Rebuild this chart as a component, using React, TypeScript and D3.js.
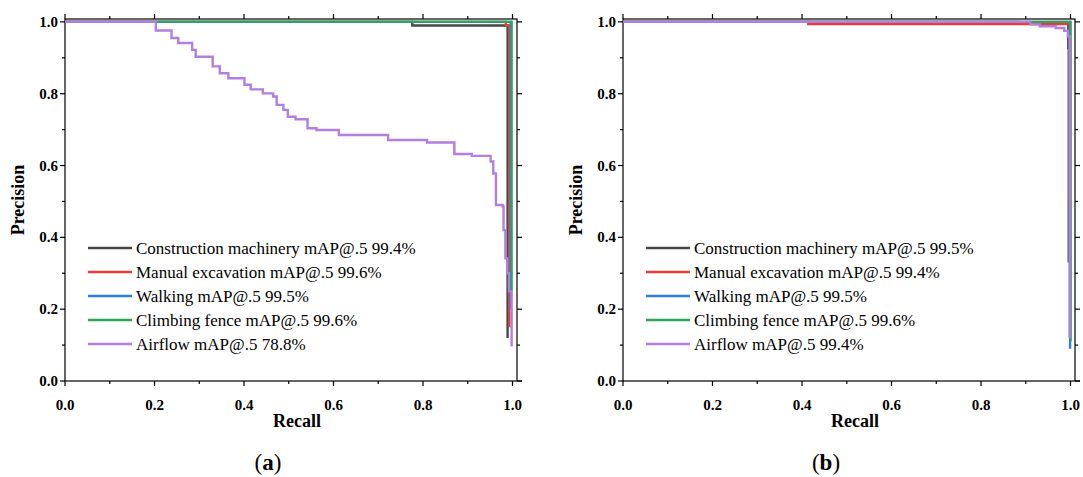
import React from 'react';
import * as d3 from 'd3';

// PR curves, [recall, precision] pairs (step-after)
const classNames = ['Construction machinery', 'Manual excavation', 'Walking', 'Climbing fence', 'Airflow'];
const colors = ['#474747', '#ec3b35', '#2f7fe0', '#2ea35f', '#b27ee0'];

const mapA = ['99.4%', '99.6%', '99.5%', '99.6%', '78.8%'];
const mapB = ['99.5%', '99.4%', '99.5%', '99.6%', '99.4%'];

const machineryA = [[0, 1], [0.776, 0.99], [0.989, 0.12], [0.989, 0.12]];
const excavationA = [[0, 1], [0.985, 0.99], [0.993, 0.15], [0.993, 0.15]];
const walkingA = [[0, 1], [0.996, 0.2], [0.996, 0.2]];
const fenceA = [[0, 1], [0.998, 0.25], [0.998, 0.25]];
const airflowA = [
  [0, 1], [0.203, 0.976], [0.238, 0.955], [0.253, 0.941], [0.284, 0.922], [0.292, 0.903],
  [0.33, 0.876], [0.346, 0.857], [0.365, 0.843], [0.401, 0.825], [0.415, 0.812],
  [0.442, 0.801], [0.465, 0.792], [0.473, 0.769], [0.488, 0.755], [0.498, 0.736],
  [0.515, 0.729], [0.542, 0.704], [0.562, 0.699], [0.612, 0.685], [0.722, 0.671],
  [0.809, 0.664], [0.87, 0.632], [0.909, 0.627], [0.951, 0.611], [0.957, 0.578],
  [0.963, 0.49], [0.978, 0.486], [0.98, 0.42], [0.984, 0.342], [0.988, 0.3],
  [0.992, 0.25], [0.998, 0.096], [0.998, 0.096],
];

const machineryB = [[0, 1], [0.885, 0.995], [0.995, 0.927], [0.996, 0.33], [0.996, 0.33]];
const excavationB = [[0, 1], [0.414, 0.994], [0.998, 0.5], [0.998, 0.5]];
const walkingB = [[0, 1], [0.999, 0.09], [0.999, 0.09]];
const fenceB = [[0, 1], [1.0, 0.11], [1.0, 0.11]];
const airflowB = [
  [0, 1], [0.91, 0.993], [0.931, 0.988], [0.967, 0.983], [0.986, 0.975],
  [0.994, 0.96], [0.998, 0.12], [0.998, 0.12],
];

const seriesA = [machineryA, excavationA, walkingA, fenceA, airflowA];
const seriesB = [machineryB, excavationB, walkingB, fenceB, airflowB];

const majorTicks = [0, 0.2, 0.4, 0.6, 0.8, 1.0];
const minorTicks = [0.1, 0.3, 0.5, 0.7, 0.9];

const serif = '"Liberation Serif", "Times New Roman", serif';

function Panel({ x0, series, maps, letter }: { x0: number; series: number[][][]; maps: string[]; letter: string }) {
  const left = x0 + 65;
  const right = x0 + 517;
  const top = 19;
  const bottom = 381;
  const x = d3.scaleLinear().domain([0, 1.01]).range([left, right]);
  const y = d3.scaleLinear().domain([0, 1.008]).range([bottom, top]);
  const line = d3.line<number[]>()
    .x(d => x(d[0]))
    .y(d => y(d[1]))
    .curve(d3.curveStepAfter);

  return (
    <g>
      <rect x={left} y={top} width={right - left} height={bottom - top} fill="none" stroke="#000" strokeWidth={1.2} />
      <line x1={right} x2={right + 5} y1={bottom} y2={bottom} stroke="#000" strokeWidth={1.2} />
      {majorTicks.map(t => (
        <g key={'M' + t}>
          <line x1={x(t)} x2={x(t)} y1={bottom} y2={bottom + 5} stroke="#000" strokeWidth={1.2} />
          <line x1={x(t)} x2={x(t)} y1={top} y2={top - 5} stroke="#000" strokeWidth={1.2} />
          <line x1={left} x2={left - 5} y1={y(t)} y2={y(t)} stroke="#000" strokeWidth={1.2} />
          <line x1={right} x2={right + 5} y1={y(t)} y2={y(t)} stroke="#000" strokeWidth={1.2} />
          <text x={x(t)} y={bottom + 29} textAnchor="middle" fontFamily={serif} fontWeight="bold" fontSize={15}>
            {t.toFixed(1)}
          </text>
          <text x={left - 7} y={y(t) + 5} textAnchor="end" fontFamily={serif} fontWeight="bold" fontSize={15}>
            {t.toFixed(1)}
          </text>
        </g>
      ))}
      {minorTicks.map(t => (
        <g key={'m' + t}>
          <line x1={x(t)} x2={x(t)} y1={bottom} y2={bottom + 3} stroke="#000" strokeWidth={1.2} />
          <line x1={x(t)} x2={x(t)} y1={top} y2={top - 3} stroke="#000" strokeWidth={1.2} />
          <line x1={left} x2={left - 3} y1={y(t)} y2={y(t)} stroke="#000" strokeWidth={1.2} />
          <line x1={right} x2={right + 3} y1={y(t)} y2={y(t)} stroke="#000" strokeWidth={1.2} />
        </g>
      ))}
      {series.map((s, i) => (
        <path key={i} d={line(s) || ''} fill="none" stroke={colors[i]} strokeWidth={2.4} />
      ))}
      {classNames.map((n, i) => (
        <g key={n}>
          <line x1={left + 23} x2={left + 67} y1={248 + i * 24} y2={248 + i * 24} stroke={colors[i]} strokeWidth={2.4} />
          <text x={left + 71} y={248 + i * 24 + 6} fontFamily={serif} fontSize={17}>
            {n} mAP@.5 {maps[i]}
          </text>
        </g>
      ))}
      <text x={(left + right) / 2 + 6} y={bottom + 46} textAnchor="middle" fontFamily={serif} fontWeight="bold" fontSize={18}>
        Recall
      </text>
      <text
        transform={`translate(${x0 + 24},${(top + bottom) / 2}) rotate(-90)`}
        textAnchor="middle"
        fontFamily={serif}
        fontWeight="bold"
        fontSize={18}
      >
        Precision
      </text>
      <text x={x0 + 268} y={470} textAnchor="middle" fontFamily={serif} fontSize={23}>
        (<tspan fontWeight="bold">{letter}</tspan>)
      </text>
    </g>
  );
}

export default function App() {
  return (
    <svg width={1083} height={477} style={{ position: 'absolute', left: 0, top: 0, background: '#fff' }}>
      <rect width={1083} height={477} fill="#fff" />
      <Panel x0={0} series={seriesA} maps={mapA} letter="a" />
      <Panel x0={558} series={seriesB} maps={mapB} letter="b" />
    </svg>
  );
}
